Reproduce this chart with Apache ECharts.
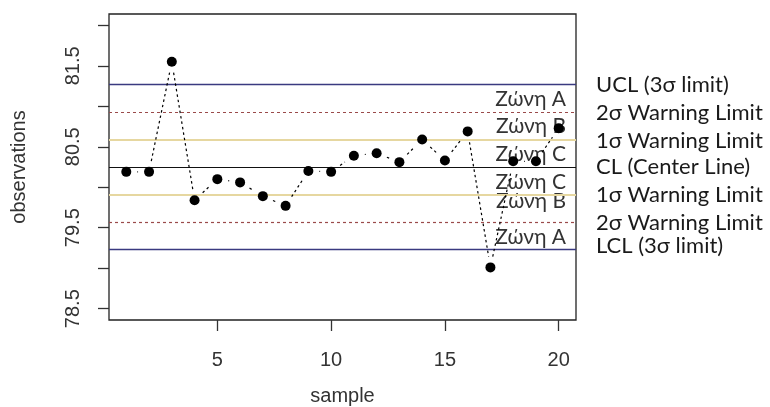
<!DOCTYPE html>
<html>
<head>
<meta charset="utf-8">
<script src="https://cdn.jsdelivr.net/npm/echarts@6/dist/echarts.min.js"></script>
<style>html,body{margin:0;padding:0;background:#fff;}#c{width:770px;height:407px;}</style>
</head>
<body>
<div id="c"></div>
<script>
const samples = [1,2,3,4,5,6,7,8,9,10,11,12,13,14,15,16,17,18,19,20];
const observations = [80.19,80.19,81.55,79.84,80.10,80.06,79.89,79.77,80.20,80.19,80.39,80.42,80.31,80.59,80.33,80.69,79.01,80.32,80.32,80.73];
const limitValues = [81.27,80.93,80.59,80.25,79.91,79.57,79.23];
const limitNames = ['UCL (3σ limit)','2σ Warning Limit','1σ Warning Limit','CL (Center Line)','1σ Warning Limit','2σ Warning Limit','LCL (3σ limit)'];
const zoneNames = ['Ζώνη A','Ζώνη B','Ζώνη C','Ζώνη C','Ζώνη B','Ζώνη A'];
const yTickValues = [78.5,79,79.5,80,80.5,81,81.5,82];
const yLabelValues = [78.5,79.5,80.5,81.5];
const xTickValues = [5,10,15,20];

const limitStyles = [
  {color:'#3a3a80', width:1.3, type:'solid'},
  {color:'#9a4a4a', width:1.2, type:[3,3]},
  {color:'#e6d7a0', width:2, type:'solid'},
  {color:'#111111', width:1.2, type:'solid'},
  {color:'#e6d7a0', width:2, type:'solid'},
  {color:'#9a4a4a', width:1.2, type:[3,3]},
  {color:'#3a3a80', width:1.3, type:'solid'}
];
const limitOffsets = [[0,0],[0,1],[0,1],[0,0],[0,0],[0,1],[0,-4]];
const zoneOffsets = [[0,1],[0,1],[0,1],[0,1],[0,-7],[0,1]];

const chart = echarts.init(document.getElementById('c'), null, {renderer:'canvas'});
const txtFont = 'Lato, "Open Sans", sans-serif';
const axFont = '"Liberation Sans", Arial, sans-serif';

const points = samples.map((s,i)=>[s, observations[i]]);
const segments = [];
for (let i = 1; i < points.length; i++) {
  segments.push([points[i-1][0], points[i-1][1], points[i][0], points[i][1]]);
}

const markLineData = limitValues.map((v,i)=>({
  yAxis: v,
  lineStyle: limitStyles[i],
  label: {formatter: limitNames[i], offset: limitOffsets[i]}
}));
const markAreaData = zoneNames.map((n,i)=>[
  {yAxis: limitValues[i], xAxis: 0.24, name: n, label:{offset: zoneOffsets[i]}},
  {yAxis: limitValues[i+1], xAxis: 20.76}
]);

const GAP = 11;
function renderSegment(params, api) {
  const a = api.coord([api.value(0), api.value(1)]);
  const b = api.coord([api.value(2), api.value(3)]);
  const dx = b[0]-a[0], dy = b[1]-a[1];
  const len = Math.sqrt(dx*dx+dy*dy);
  if (len <= 2*GAP) return null;
  const ux = dx/len, uy = dy/len;
  return {
    type:'line',
    shape:{x1:a[0]+ux*GAP, y1:a[1]+uy*GAP, x2:b[0]-ux*GAP, y2:b[1]-uy*GAP},
    style:{stroke:'#000', lineWidth:1.2, lineDash:[2.5,3]}
  };
}

chart.setOption({
  animation:false,
  grid:{left:109, top:14, right:194, bottom:87, show:true, borderColor:'#222', borderWidth:1.3, backgroundColor:'transparent', outerBoundsMode:'none', containLabel:false},
  xAxis:{
    type:'value', min:0.24, max:20.76,
    name:'sample', nameLocation:'middle', nameGap:66,
    nameTextStyle:{fontFamily:axFont, fontSize:20, color:'#333'},
    axisLine:{show:false},
    axisTick:{show:true, length:11, customValues:xTickValues, lineStyle:{color:'#333', width:1.3}},
    axisLabel:{customValues:xTickValues, margin:30, fontFamily:axFont, fontSize:20, color:'#333'},
    splitLine:{show:false}
  },
  yAxis:{
    type:'value', min:78.36, max:82.14,
    name:'observations', nameLocation:'middle', nameGap:80,
    nameTextStyle:{fontFamily:axFont, fontSize:20, color:'#333'},
    axisLine:{show:false},
    axisTick:{show:true, length:11, customValues:yTickValues, lineStyle:{color:'#333', width:1.3}},
    axisLabel:{customValues:yLabelValues, rotate:90, margin:26, fontFamily:axFont, fontSize:20, color:'#333', formatter:v=>v.toFixed(1)},
    splitLine:{show:false}
  },
  series:[
    {
      type:'custom',
      data: segments,
      renderItem: renderSegment,
      silent:true,
      z:4
    },
    {
      type:'scatter',
      data: points,
      symbol:'circle', symbolSize:10,
      itemStyle:{color:'#000', opacity:1},
      silent:true,
      z:6,
      markArea:{
        silent:true,
        itemStyle:{color:'rgba(0,0,0,0)'},
        label:{show:true, position:'insideRight', distance:10, fontFamily:txtFont, fontSize:21, color:'#333'},
        data: markAreaData
      },
      markLine:{
        silent:true,
        symbol:'none',
        z:2,
        label:{show:true, position:'end', distance:20, fontFamily:txtFont, fontSize:22, color:'#1a1a1a'},
        data: markLineData
      }
    }
  ]
});
</script>
</body>
</html>
